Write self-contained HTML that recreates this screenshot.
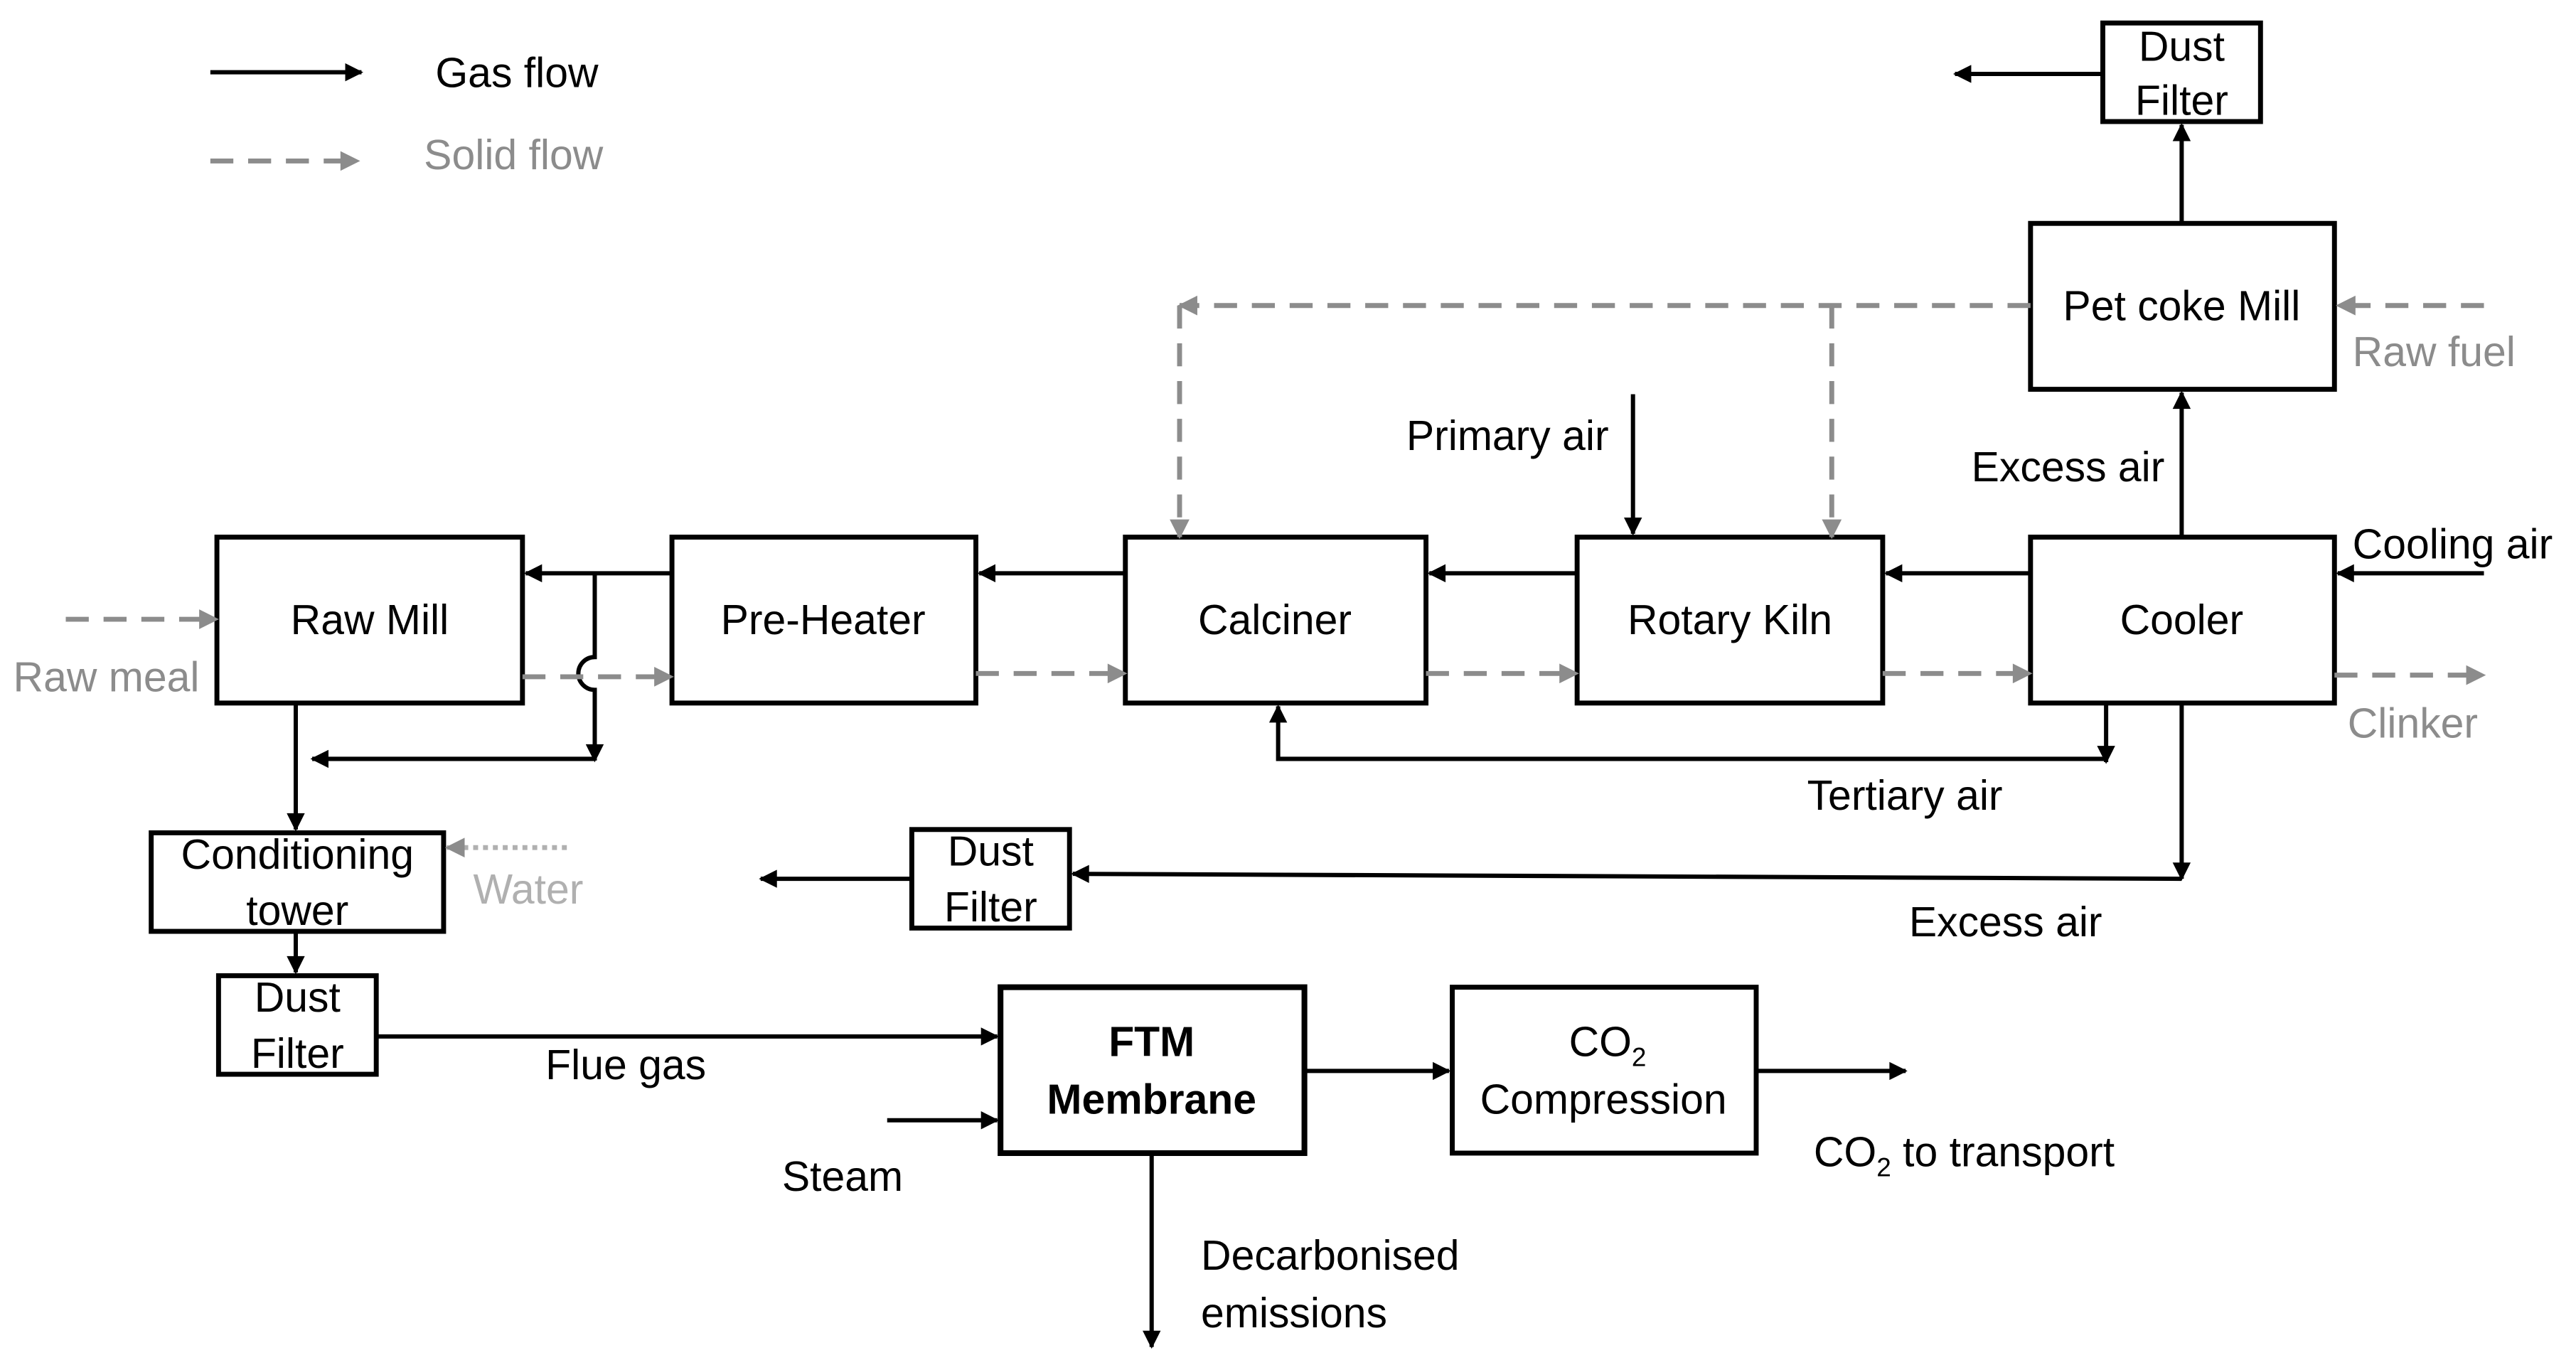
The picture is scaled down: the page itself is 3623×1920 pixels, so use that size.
<!DOCTYPE html>
<html><head><meta charset="utf-8"><style>
html,body{margin:0;padding:0;background:#fff;}
svg{display:block;}
text{font-family:"Liberation Sans",sans-serif;font-size:25.5px;}
.c{text-anchor:middle;}
</style></head><body>
<svg width="3623" height="1920" viewBox="0 0 1568 831" xmlns="http://www.w3.org/2000/svg">
<defs>
<marker id="a" viewBox="0 0 10 10" refX="9" refY="5" markerWidth="13" markerHeight="11" orient="auto" markerUnits="userSpaceOnUse">
<path d="M0,0 L10,5 L0,10 z" fill="#000"/></marker>
<marker id="g" viewBox="0 0 10 10" refX="9" refY="5" markerWidth="13" markerHeight="12" orient="auto" markerUnits="userSpaceOnUse">
<path d="M0,0 L10,5 L0,10 z" fill="#8c8c8c"/></marker>
</defs>
<g fill="none" stroke="#000" stroke-width="3">
<rect x="1280" y="14" width="96" height="60"/>
<rect x="1236" y="136" width="185" height="101"/>
<rect x="132" y="327" width="186" height="101"/>
<rect x="409" y="327" width="185" height="101"/>
<rect x="685" y="327" width="183" height="101"/>
<rect x="960" y="327" width="186" height="101"/>
<rect x="1236" y="327" width="185" height="101"/>
<rect x="92" y="507" width="178" height="60"/>
<rect x="555" y="505" width="96" height="60"/>
<rect x="133" y="594" width="96" height="60"/>
<rect x="609" y="601" width="185" height="101" stroke-width="3.5"/>
<rect x="884" y="601" width="185" height="101"/>
</g>
<g fill="none" stroke="#000" stroke-width="2.6" marker-end="url(#a)">
<line x1="128" y1="44" x2="220" y2="44"/>
<line x1="1236" y1="349" x2="1148" y2="349"/>
<line x1="960" y1="349" x2="870" y2="349"/>
<line x1="685" y1="349" x2="596" y2="349"/>
<line x1="409" y1="349" x2="320" y2="349"/>
<path d="M362,349 V400 A10,10 0 0 0 362,420 V463"/>
<line x1="362" y1="462" x2="190" y2="462"/>
<line x1="180" y1="428" x2="180" y2="505"/>
<line x1="1282" y1="428" x2="1282" y2="464"/>
<path d="M1282,462 H778 V430"/>
<line x1="1328" y1="428" x2="1328" y2="535"/>
<line x1="1328" y1="535" x2="653" y2="532"/>
<line x1="555" y1="535" x2="463" y2="535"/>
<line x1="1328" y1="327" x2="1328" y2="239"/>
<line x1="1328" y1="136" x2="1328" y2="76"/>
<line x1="1280" y1="45" x2="1190" y2="45"/>
<line x1="1512" y1="349" x2="1423" y2="349"/>
<line x1="994" y1="240" x2="994" y2="325"/>
<line x1="180" y1="567" x2="180" y2="592"/>
<line x1="229" y1="631" x2="607" y2="631"/>
<line x1="540" y1="682" x2="607" y2="682"/>
<line x1="794" y1="652" x2="882" y2="652"/>
<line x1="1069" y1="652" x2="1160" y2="652"/>
<line x1="701" y1="702" x2="701" y2="820"/>
</g>
<g fill="none" stroke="#8c8c8c" stroke-width="3" stroke-dasharray="14,9" marker-end="url(#g)">
<line x1="128" y1="98" x2="218" y2="98"/>
<line x1="40" y1="377" x2="132" y2="377"/>
<line x1="318" y1="412" x2="409" y2="412"/>
<line x1="594" y1="410" x2="685" y2="410"/>
<line x1="868" y1="410" x2="960" y2="410"/>
<line x1="1146" y1="410" x2="1236" y2="410"/>
<line x1="1421" y1="411" x2="1512" y2="411"/>
<line x1="1512" y1="186" x2="1423" y2="186"/>
<line x1="1236" y1="186" x2="718" y2="186"/>
<line x1="718" y1="186" x2="718" y2="327"/>
<line x1="1115" y1="186" x2="1115" y2="327"/>
</g>
<line x1="345" y1="516" x2="272" y2="516" stroke="#b0b0b0" stroke-width="3" stroke-dasharray="3,3" marker-end="url(#g)"/>
<text x="288" y="550" fill="#b0b0b0">Water</text>
<g fill="#000">
<text x="265" y="53">Gas flow</text>
<text x="258" y="103" fill="#8c8c8c">Solid flow</text>
<text class="c" x="1328" y="37">Dust</text><text class="c" x="1328" y="70">Filter</text>
<text class="c" x="1328" y="195">Pet coke Mill</text>
<text x="1432" y="223" fill="#8c8c8c">Raw fuel</text>
<text x="1200" y="293">Excess air</text>
<text x="856" y="274">Primary air</text>
<text x="1432" y="340">Cooling air</text>
<text class="c" x="225" y="386">Raw Mill</text>
<text class="c" x="501" y="386">Pre-Heater</text>
<text class="c" x="776" y="386">Calciner</text>
<text class="c" x="1053" y="386">Rotary Kiln</text>
<text class="c" x="1328" y="386">Cooler</text>
<text x="8" y="421" fill="#8c8c8c">Raw meal</text>
<text x="1429" y="449" fill="#8c8c8c">Clinker</text>
<text x="1100" y="493">Tertiary air</text>
<text class="c" x="181" y="529">Conditioning</text><text class="c" x="181" y="563">tower</text>
<text class="c" x="603" y="527">Dust</text><text class="c" x="603" y="561">Filter</text>
<text x="1162" y="570">Excess air</text>
<text class="c" x="181" y="616">Dust</text><text class="c" x="181" y="650">Filter</text>
<text x="332" y="657">Flue gas</text>
<text class="c" x="701" y="643" font-weight="bold">FTM</text>
<text class="c" x="701" y="678" font-weight="bold">Membrane</text>
<text x="955" y="643">CO<tspan font-size="16" dy="6">2</tspan></text>
<text class="c" x="976" y="678">Compression</text>
<text x="476" y="725">Steam</text>
<text x="1104" y="710">CO<tspan font-size="16" dy="6">2</tspan><tspan dy="-6"> to transport</tspan></text>
<text x="731" y="773">Decarbonised</text>
<text x="731" y="808">emissions</text>
</g>
</svg>
</body></html>
